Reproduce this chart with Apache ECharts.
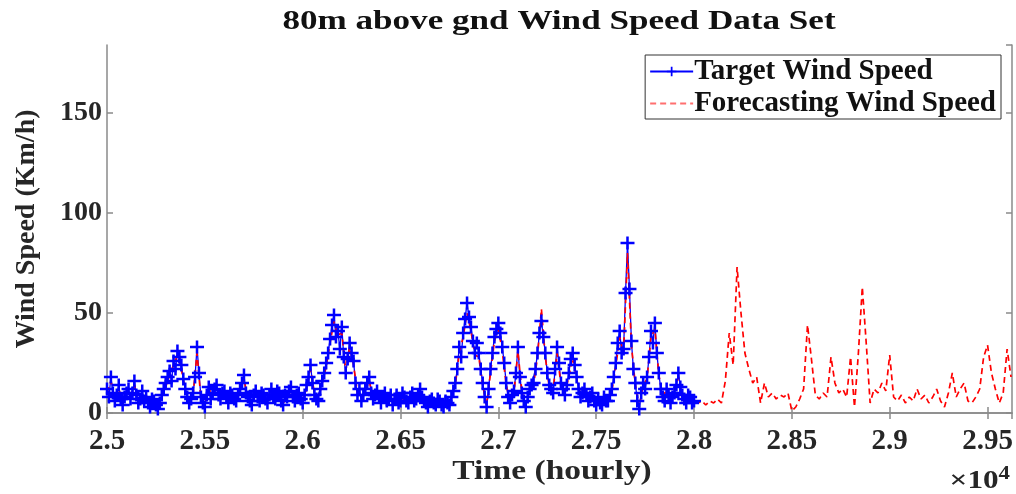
<!DOCTYPE html>
<html>
<head>
<meta charset="utf-8">
<script src="https://cdn.jsdelivr.net/npm/echarts@6/dist/echarts.min.js"></script>
<style>
html,body{margin:0;padding:0;background:#fff;}
#chart{width:1016px;height:494px;}
</style>
</head>
<body>
<div id="chart"></div>
<script>
// ---- data (hourly time index) ----
var startHour = 25000;
var targetStep = 10;     // target read every 10 h
var forecastStep = 20;   // forecast read every 20 h
var xTickLabels = ['2.5','2.55','2.6','2.65','2.7','2.75','2.8','2.85','2.9','2.95'];
var yTickLabels = ['0','50','100','150'];
var seriesNames = ['Target Wind Speed', 'Forecasting Wind Speed'];

// Target wind speed 25000 .. 28000 (every 10 h)
var targetSpeed = [
 12,8,18,10,6,9,14,7,4,8, 10,12,7,10,16,9,5,7,11,6,
 8,5,3,7,6,4,2,5,9,12, 15,18,21,16,26,22,31,28,24,17,
 12,8,5,7,10,18,33,20,8,5, 3,9,13,7,10,12,14,9,7,10,
 11,8,5,10,9,7,6,9,12,15, 19,10,8,6,4,9,11,8,6,10,
 9,7,5,9,12,8,7,11,10,6, 4,9,8,11,13,8,6,9,10,7,
 5,9,14,18,24,15,9,7,6,12, 16,20,25,30,37,44,49,38,41,32,
 43,28,20,27,35,30,26,15,9,12, 6,9,12,15,18,10,7,9,11,8,
 5,8,10,6,7,9,4,7,9,5, 6,10,8,6,5,8,10,6,7,9,
 12,8,6,5,3,6,7,5,4,7, 6,4,3,6,5,4,8,11,15,22,
 33,28,40,47,55,48,43,36,30,35, 30,22,15,8,3,12,22,30,38,42,
 45,40,33,25,15,8,5,9,11,20, 33,18,10,6,3,8,12,14,15,22,
 30,40,46,38,30,20,14,12,10,22, 33,25,15,12,9,14,20,27,30,24,
 18,12,8,10,12,9,6,8,10,6, 4,7,5,4,8,6,6,9,12,18,
 25,35,41,30,32,60,85,62,36,22, 15,6,2,10,15,12,18,28,41,35,
 45,30,20,12,8,6,12,9,5,8, 10,14,20,13,9,7,5,9,8,5,
 6
];

// Forecasting wind speed 25000 .. 28000 (overlapping the target, every 20 h)
var forecastPast = [
 10,16,7,12,5,9,8,14,4,10, 9,4,5,3,8,13,19,24,29,22,
 11,6,9,30,7,4,12,9,13,8, 10,6,8,7,11,17,7,5,10,7,
 8,6,11,8,9,5,7,12,7,9, 6,12,22,10,7,15,23,35,46,39,
 40,21,33,24,10,7,11,16,8,10, 6,9,8,5,8,7,7,6,9,8,
 11,7,4,6,5,5,4,6,7,14, 30,38,50,41,29,28,14,4,20,36,
 42,31,14,6,10,31,11,4,11,14, 28,52,28,13,11,30,14,10,18,28,
 17,9,11,7,9,5,6,7,7,11, 23,38,30,80,34,14,3,14,17,38,
 42,19,9,11,6,9,18,10,6,7, 5
];

// Forecasting wind speed 28020 .. 29620 (every 20 h)
var forecastFuture = [
 5,6,4,6,5,7,5,16,40,24,
 73,50,30,22,15,18,5,15,8,10,
 7,9,8,10,1,3,7,12,44,27,
 9,7,10,8,28,15,10,12,8,28,
 3,30,63,35,5,12,10,15,11,29,
 8,6,9,5,8,6,12,7,9,5,
 8,12,6,3,10,20,8,12,15,6,
 5,8,12,28,34,20,12,5,10,32,
 18
];

// ---- build [x, y] pairs ----
var targetData = targetSpeed.map(function (v, i) { return [startHour + i * targetStep, v]; });
var forecastValues = forecastPast.concat(forecastFuture);
var forecastData = forecastValues.map(function (v, i) { return [startHour + i * forecastStep, v]; });

var FONT = 'Liberation Serif';
var TXT = '#262626';
var AX = '#8a8a8a';
var plus = 'path://M4.1,0H5.9V4.1H10V5.9H5.9V10H4.1V5.9H0V4.1H4.1Z';

var chart = echarts.init(document.getElementById('chart'), null, {renderer: 'canvas'});
var xLabelMap = {};
xTickLabels.forEach(function (t, i) { xLabelMap[25000 + i * 500] = t; });
var yLabelMap = {};
yTickLabels.forEach(function (t, i) { yLabelMap[i * 50] = t; });

chart.setOption({
  animation: false,
  backgroundColor: '#ffffff',
  grid: {left: 107, right: 4, top: 45, bottom: 81, containLabel: false},
  graphic: [
    {type: 'text', x: 559, y: 22, scaleX: 1.3, scaleY: 1,
     style: {text: '80m above gnd Wind Speed Data Set', fill: '#111',
             font: 'bold 27px "Liberation Serif"', align: 'center', verticalAlign: 'middle'}},
    {type: 'text', x: 552, y: 472, scaleX: 1.24, scaleY: 1,
     style: {text: 'Time (hourly)', fill: TXT,
             font: 'bold 27px "Liberation Serif"', align: 'center', verticalAlign: 'middle'}},
    {type: 'text', x: 1010, y: 481, scaleX: 1.2, scaleY: 1,
     style: {rich: {a: {fontFamily: FONT, fontWeight: 'bold', fontSize: 26, fill: TXT},
                    b: {fontFamily: FONT, fontWeight: 'bold', fontSize: 19, fill: TXT, padding: [0, 0, 14, 0]}},
             text: '{a|×10}{b|4}', align: 'right', verticalAlign: 'middle'}}
  ],
  legend: {
    show: true, orient: 'vertical', right: 15, top: 55,
    backgroundColor: '#fff', borderColor: '#333', borderWidth: 1,
    padding: [2, 5, 1, 4], itemGap: 3, itemWidth: 43, itemHeight: 12,
    textStyle: {fontFamily: FONT, fontWeight: 'bold', fontSize: 29, lineHeight: 28, color: '#111', padding: [0, 0, 0, -4]},
    data: [
      {name: seriesNames[0], itemStyle: {opacity: 1}},
      {name: seriesNames[1], itemStyle: {opacity: 0}, lineStyle: {color: '#ff6f6f', width: 2}}
    ]
  },
  xAxis: [{
    type: 'value', min: 25000, max: 29625, interval: 500,
    axisLine: {show: true, lineStyle: {color: AX, width: 1.5}},
    axisTick: {show: true, inside: true, length: 6, lineStyle: {color: AX, width: 1.5}},
    axisLabel: {fontFamily: FONT, fontWeight: 'bold', fontSize: 29, color: TXT, margin: 14,
                showMaxLabel: false,
                formatter: function (v) { return xLabelMap[v] !== undefined ? xLabelMap[v] : ''; }},
    splitLine: {show: false}
  }, {
    type: 'value', position: 'top', min: 25000, max: 29625, interval: 500,
    axisLine: {show: true, lineStyle: {color: AX, width: 1.5}},
    axisTick: {show: true, inside: true, length: 6, lineStyle: {color: AX, width: 1.5}},
    axisLabel: {show: false}, splitLine: {show: false}
  }],
  yAxis: [{
    type: 'value', min: 0, max: 184, interval: 50,
    name: 'Wind Speed (Km/h)', nameLocation: 'middle', nameGap: 66,
    nameTextStyle: {fontFamily: FONT, fontWeight: 'bold', fontSize: 28, color: TXT},
    axisLine: {show: true, lineStyle: {color: AX, width: 1.5}},
    axisTick: {show: true, inside: true, length: 6, lineStyle: {color: AX, width: 1.5}},
    axisLabel: {fontFamily: FONT, fontWeight: 'bold', fontSize: 28, color: TXT, margin: 5,
                showMaxLabel: false,
                formatter: function (v) { return yLabelMap[v] !== undefined ? yLabelMap[v] : ''; }},
    splitLine: {show: false}
  }, {
    type: 'value', position: 'right', min: 0, max: 184, interval: 50,
    axisLine: {show: true, lineStyle: {color: AX, width: 1.5}},
    axisTick: {show: true, inside: true, length: 6, lineStyle: {color: AX, width: 1.5}},
    axisLabel: {show: false}, splitLine: {show: false}
  }],
  series: [{
    name: seriesNames[0], type: 'line', data: targetData,
    xAxisIndex: 0, yAxisIndex: 0,
    symbol: plus, symbolSize: [14, 13], showAllSymbol: true,
    lineStyle: {color: '#0000ff', width: 1.3},
    itemStyle: {color: '#0000ff'},
    emphasis: {disabled: true}
  }, {
    name: seriesNames[1], type: 'line', data: forecastData,
    xAxisIndex: 0, yAxisIndex: 0,
    showSymbol: false, symbol: 'none',
    lineStyle: {color: '#ff0000', width: 1.7, type: [6, 4]},
    itemStyle: {color: '#ff0000'},
    emphasis: {disabled: true}
  }]
});
</script>
</body>
</html>
